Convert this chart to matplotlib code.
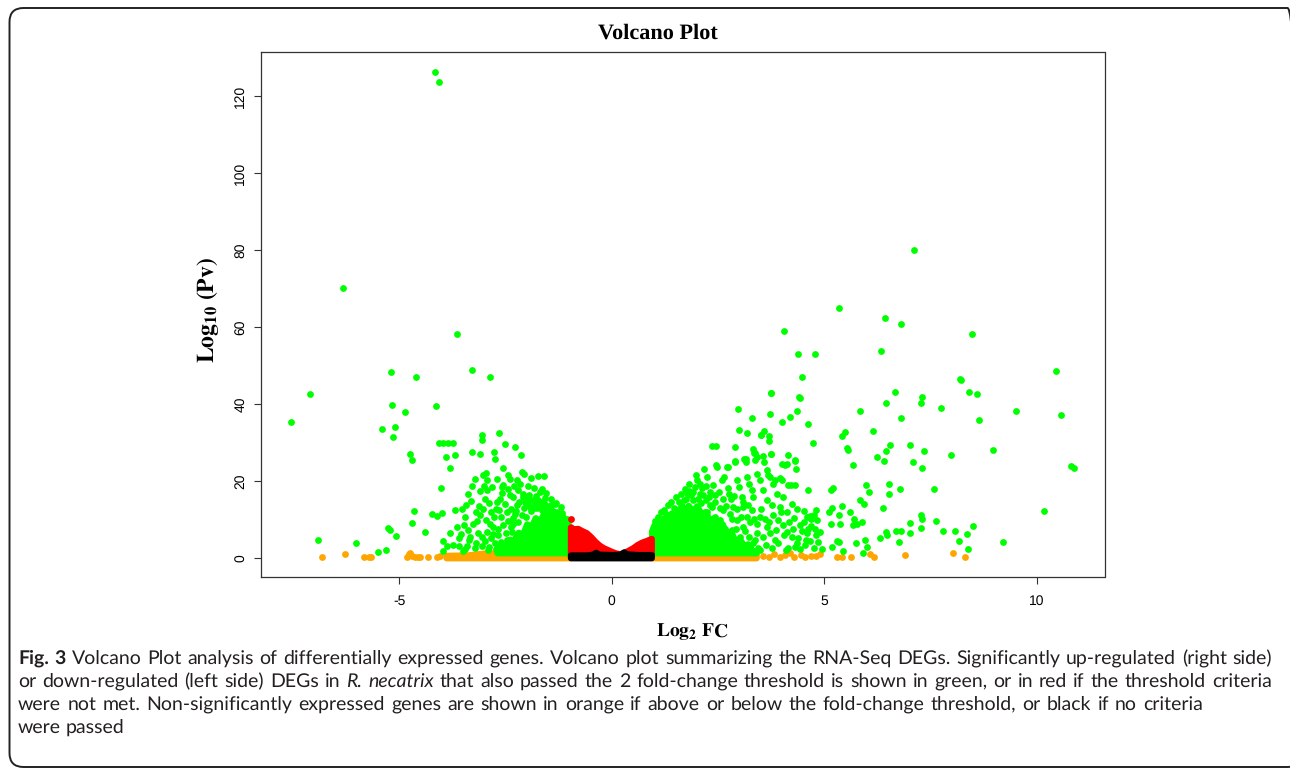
import math
import matplotlib
matplotlib.use('Agg')
import matplotlib.pyplot as plt
from matplotlib.patches import FancyBboxPatch
from matplotlib.transforms import IdentityTransform
from matplotlib.font_manager import FontProperties, findfont, get_font
from matplotlib.backends.backend_agg import get_hinting_flag

plt.rcParams['mathtext.fontset'] = 'stix'
plt.rcParams['text.hinting'] = 'no_hinting'

# ---- data (log2 FC, log10 p) ----

# significant and past the 2-fold threshold: scattered green genes
green_left = [
    (-7.55, 35.3), (-7.10, 42.7), (-6.91, 4.6), (-6.32, 70.2), (-6.03, 3.9),
    (-5.51, 1.4), (-5.40, 33.6), (-5.31, 1.9), (-5.26, 7.8), (-5.23, 7.2),
    (-5.19, 48.3), (-5.18, 39.7), (-5.15, 31.5), (-5.11, 34.0), (-5.07, 5.6),
    (-4.86, 38.0), (-4.76, 27.1), (-4.71, 25.4), (-4.70, 9.0), (-4.66, 12.2),
    (-4.61, 47.0), (-4.40, 6.7), (-4.24, 11.5), (-4.16, 126.4), (-4.07, 123.7),
    (-4.13, 39.6), (-4.12, 10.8), (-4.03, 18.2), (-3.99, 11.6), (-3.97, 4.3),
    (-4.06, 29.8), (-3.98, 29.8), (-3.85, 29.8), (-3.74, 29.8), (-3.91, 26.2),
    (-3.70, 26.8), (-3.81, 23.3), (-3.64, 58.1), (-3.29, 48.8), (-2.86, 47.0),
    (-3.70, 12.3), (-3.52, 12.7), (-3.55, 6.1), (-3.48, 8.4), (-3.41, 3.1),
    (-3.88, 3.1), (-3.73, 3.3), (-3.60, 3.1), (-3.96, 1.8), (-3.28, 27.6),
    (-3.11, 27.1), (-3.06, 31.8), (-3.05, 30.6), (-3.23, 20.4), (-3.28, 18.7),
    (-3.31, 14.8), (-2.65, 32.5), (-2.78, 27.6), (-2.75, 25.6), (-2.52, 29.7),
    (-2.55, 23.4), (-2.27, 28.7), (-2.13, 26.8), (-1.73, 21.3), (-1.84, 18.2),
    (-1.33, 11.3), (-1.59, 14.3), (-3.02, 21.5), (-2.96, 22.0), (-2.93, 20.2),
    (-3.00, 18.7), (-2.94, 17.6), (-2.83, 18.5), (-3.10, 17.4), (-2.99, 15.4),
    (-3.12, 13.4), (-3.11, 11.1), (-3.26, 8.8), (-3.33, 5.5), (-3.19, 3.7),
    (-3.06, 5.5), (-2.94, 6.8), (-2.86, 8.9), (-2.77, 10.7), (-2.72, 12.8),
    (-2.63, 15.4), (-2.59, 18.5), (-2.55, 18.9), (-2.43, 18.0), (-2.39, 16.3),
    (-2.51, 14.1), (-2.65, 12.4), (-2.61, 10.7), (-2.79, 8.1), (-2.67, 5.9),
    (-2.75, 3.7), (-2.90, 2.9), (-2.63, 2.4), (-2.47, 4.6), (-2.35, 6.8),
    (-2.32, 8.9), (-2.28, 11.5), (-2.24, 13.7), (-2.32, 15.9), (-2.20, 17.6),
    (-2.16, 19.3), (-2.24, 20.2), (-2.08, 16.7), (-2.04, 14.6), (-1.96, 15.4),
    (-1.92, 13.3), (-1.80, 14.1), (-1.73, 15.0), (-1.69, 13.7), (-1.65, 12.4),
    (-1.53, 12.0), (-1.45, 11.1), (-1.22, 10.2), (-1.10, 9.4), (-1.30, 9.8),
    (-3.45, 10.5), (-3.38, 16.5), (-3.17, 9.6), (-3.02, 12.6), (-2.88, 14.2),
    (-2.70, 20.5), (-2.45, 21.6), (-2.38, 12.8), (-2.12, 22.4), (-1.98, 18.6),
]

green_left_dense = [
    (-3.45, 2.2), (-3.35, 4.6), (-3.22, 2.6), (-3.15, 6.5), (-3.05, 3.0),
    (-2.98, 4.4), (-2.92, 2.0), (-2.85, 5.2), (-2.80, 6.2), (-2.72, 2.3),
    (-2.68, 7.4), (-2.60, 4.0), (-2.56, 8.6), (-2.50, 6.4), (-2.45, 9.6),
    (-2.42, 3.0), (-2.37, 7.9), (-2.33, 10.4), (-2.28, 5.0), (-2.26, 12.2),
    (-2.20, 9.2), (-2.18, 14.6), (-2.12, 11.0), (-2.10, 15.8), (-2.06, 12.9),
    (-2.02, 10.6), (-1.98, 14.2), (-1.94, 16.4), (-1.90, 12.2), (-1.86, 14.9),
    (-1.82, 13.0), (-1.78, 16.0), (-1.75, 12.9), (-1.70, 17.2), (-1.66, 14.6),
    (-1.62, 13.2), (-1.57, 15.6), (-1.52, 13.5), (-1.48, 12.6), (-1.42, 13.7),
    (-1.38, 12.2), (-1.34, 13.9), (-1.28, 12.0), (-1.25, 11.0), (-1.18, 11.6),
    (-1.14, 10.6), (-1.06, 10.0), (-1.02, 9.2), (-3.60, 5.0), (-3.50, 1.8),
    (-3.65, 8.0), (-3.80, 6.5), (-3.38, 7.2), (-3.20, 11.8), (-3.42, 13.6),
    (-2.97, 9.9), (-2.84, 12.0), (-2.70, 14.6), (-2.58, 16.8), (-2.47, 11.8),
    (-2.30, 18.6), (-2.40, 20.4), (-1.90, 20.8), (-2.06, 21.9), (-1.65, 17.8),
    (-1.55, 16.9), (-1.43, 15.4), (-1.30, 14.3), (-1.20, 13.2), (-1.60, 21.2),
]

green_right = [
    (3.75, 42.8), (4.42, 41.7), (6.68, 43.0), (7.31, 41.9), (7.27, 40.2),
    (6.46, 40.2), (8.40, 43.0), (8.61, 42.5), (8.22, 46.2), (2.98, 38.6),
    (3.73, 37.5), (3.31, 36.4), (4.35, 38.3), (4.19, 36.5), (4.00, 35.2),
    (4.62, 34.9), (5.84, 38.3), (6.80, 36.4), (7.74, 38.9), (9.52, 38.1),
    (10.57, 37.2), (8.65, 35.8), (3.00, 33.2), (3.19, 32.5), (3.58, 33.0),
    (3.51, 32.0), (3.70, 31.7), (3.70, 30.4), (5.50, 32.7), (5.41, 31.7),
    (6.14, 33.0), (4.73, 29.8), (2.36, 29.1), (2.45, 29.1), (2.91, 28.9),
    (3.33, 28.4), (3.38, 27.2), (3.37, 25.4), (5.53, 28.5), (5.57, 28.0),
    (6.56, 29.2), (7.03, 29.2), (7.98, 26.6), (8.98, 28.1), (10.80, 23.9),
    (10.89, 23.3), (6.46, 27.8), (6.42, 25.2), (6.25, 26.1), (7.09, 24.8),
    (7.35, 27.8), (7.31, 23.3), (5.67, 24.2), (4.32, 25.4), (4.14, 26.7),
    (3.74, 27.0), (7.59, 18.0), (6.52, 19.3), (6.78, 18.0), (5.98, 18.8),
    (6.05, 17.0), (6.38, 12.9), (6.52, 16.6), (5.85, 15.0), (5.95, 14.0),
    (5.16, 17.6), (5.22, 18.1), (4.61, 17.6), (5.11, 11.9), (5.19, 12.9),
    (5.35, 11.1), (5.41, 13.5), (5.61, 12.0), (5.16, 8.7), (5.37, 8.8),
    (5.70, 10.2), (5.78, 8.8), (5.88, 9.4), (5.68, 8.5), (4.81, 12.4),
    (4.83, 9.8), (4.75, 11.1), (4.79, 7.4), (4.81, 5.8), (4.86, 4.1),
    (5.30, 4.4), (5.35, 4.0), (5.18, 2.9), (5.75, 3.7), (5.97, 4.6),
    (6.00, 2.9), (5.92, 1.3), (5.45, 1.7), (6.32, 5.0), (6.47, 5.9),
    (6.45, 6.8), (6.69, 6.9), (6.81, 7.0), (6.77, 4.1), (7.02, 6.3),
    (7.02, 9.0), (7.27, 11.1), (7.30, 10.1), (7.28, 7.8), (7.63, 9.5),
    (7.81, 6.9), (8.09, 7.0), (8.18, 4.3), (8.37, 6.2), (8.50, 8.2),
    (8.39, 2.2), (9.22, 4.0), (10.18, 12.2), (7.11, 80.0), (5.35, 65.0),
    (6.43, 62.4), (6.81, 60.9), (4.06, 59.1), (8.49, 58.1), (6.34, 53.8),
    (4.39, 53.1), (4.79, 53.1), (4.48, 46.9), (10.47, 48.7), (8.21, 46.5),
    (3.76, 42.8), (4.43, 41.6), (4.31, 25.2), (4.34, 23.2), (4.13, 24.5),
    (4.00, 24.5), (3.55, 26.5), (3.59, 25.0), (3.73, 20.9), (3.85, 20.3),
    (3.96, 20.8), (4.23, 18.8), (4.32, 18.8), (4.60, 10.5), (4.66, 10.8),
    (4.70, 10.0), (4.53, 9.4), (4.43, 8.4), (4.63, 7.5), (4.59, 6.3),
    (4.67, 4.3), (4.55, 3.3), (4.32, 2.9), (4.16, 2.4), (2.17, 23.2),
    (2.24, 21.1), (2.13, 18.2), (2.21, 18.6), (2.31, 17.2), (2.43, 16.3),
    (2.47, 23.7), (2.59, 20.2), (2.64, 20.9), (2.71, 23.5), (2.75, 16.7),
    (2.80, 15.4), (2.90, 25.0), (2.94, 20.2), (3.00, 18.5), (3.06, 15.9),
    (3.10, 14.6), (3.15, 25.6), (3.18, 21.1), (3.22, 19.3), (3.30, 17.6),
    (3.33, 15.9), (3.35, 27.2), (3.41, 26.1), (3.41, 21.9), (3.48, 20.2),
    (3.57, 17.6), (3.65, 22.8), (3.69, 21.5), (3.75, 27.0), (3.80, 19.3),
    (4.00, 20.2), (4.09, 24.1), (4.14, 18.9), (3.88, 16.7), (4.04, 15.9),
    (3.65, 15.0), (3.77, 13.7), (3.96, 13.3), (4.12, 12.0), (4.24, 14.1),
    (4.35, 12.8), (3.80, 11.1), (3.92, 9.8), (4.04, 8.5), (3.65, 8.1),
    (3.73, 6.3), (3.84, 4.6), (3.49, 10.7), (3.41, 8.9), (3.57, 5.5),
    (4.12, 6.8), (4.24, 5.5), (4.35, 3.7), (3.30, 12.4), (3.18, 10.7),
    (3.10, 8.1), (3.22, 5.5), (3.33, 3.7), (3.45, 2.4), (2.86, 13.3),
    (2.78, 11.5), (2.94, 9.8), (2.82, 7.2), (3.02, 5.5), (2.90, 3.3),
    (2.63, 12.4), (2.55, 9.8), (2.67, 7.6), (2.47, 5.5), (2.59, 2.9),
    (2.35, 13.3), (2.24, 12.0), (2.43, 10.7), (1.37, 10.2), (1.57, 12.4),
    (1.69, 15.0), (1.78, 16.9), (1.83, 17.4), (2.00, 20.2), (2.08, 16.7),
    (1.92, 15.0), (1.96, 18.5), (2.08, 19.3), (1.88, 12.4), (2.46, 24.2),
    (2.73, 23.6), (2.91, 25.1), (3.12, 25.7), (3.16, 24.9), (3.52, 32.0),
]

green_right_dense = [
    (1.02, 9.5), (1.08, 10.6), (1.15, 11.8), (1.22, 12.4), (1.28, 11.4),
    (1.32, 13.6), (1.40, 14.4), (1.46, 13.0), (1.52, 15.8), (1.58, 14.5),
    (1.62, 16.6), (1.66, 13.4), (1.72, 17.8), (1.76, 15.2), (1.82, 19.2),
    (1.86, 16.2), (1.92, 17.0), (1.98, 21.5), (2.02, 15.2), (2.10, 14.3),
    (2.16, 16.4), (2.22, 14.9), (2.28, 15.8), (2.32, 13.7), (2.38, 18.9),
    (2.44, 14.6), (2.52, 17.2), (2.56, 12.9), (2.62, 15.2), (2.70, 13.4),
    (2.74, 18.2), (2.82, 10.2), (2.88, 16.0), (2.96, 12.6), (3.04, 10.6),
    (3.08, 13.2), (3.14, 7.0), (3.20, 13.8), (3.26, 9.4), (3.36, 10.0),
    (3.42, 6.3), (3.52, 12.8), (3.60, 10.2), (3.62, 3.2), (3.70, 9.2),
    (3.78, 2.6), (3.86, 7.3), (3.92, 3.8), (3.98, 11.9), (4.06, 5.8),
    (4.10, 2.0), (4.18, 9.3), (4.26, 7.4), (4.30, 10.4), (4.38, 5.2),
    (4.44, 2.2), (4.48, 7.0), (4.52, 12.2), (4.58, 4.6), (4.70, 8.2),
    (4.76, 2.6), (4.90, 6.6), (4.95, 2.2), (2.60, 4.2), (2.76, 3.0),
    (2.84, 5.4), (2.98, 2.2), (3.04, 4.0), (3.16, 3.0), (3.28, 2.0),
    (3.38, 4.6), (3.50, 2.0), (2.52, 2.6), (2.40, 3.6), (2.70, 6.4),
    (2.92, 7.6), (2.44, 8.2), (2.30, 6.2), (2.20, 8.0), (2.12, 10.2),
]

# solid green cores next to the fold-change cut-off (x, top of cloud)
core_left_x = [-2.70, -2.60, -2.50, -2.40, -2.30, -2.20, -2.10, -2.00, -1.90, -1.80,
               -1.70, -1.60, -1.50, -1.40, -1.30, -1.20, -1.10, -0.98]
core_left_top = [2.2, 3.4, 2.8, 4.8, 4.2, 6.6, 6.0, 8.8, 8.0, 10.4,
                 9.6, 11.5, 10.5, 11.8, 10.6, 10.0, 9.0, 8.0]
core_right_x = [0.94, 1.00, 1.10, 1.20, 1.30, 1.40, 1.50, 1.60, 1.70, 1.80, 1.90, 2.00, 2.10,
                2.20, 2.30, 2.40, 2.50, 2.60, 2.70, 2.80, 2.90, 3.00, 3.10, 3.20, 3.30, 3.40]
core_right_top = [7.0, 8.6, 8.0, 10.2, 9.5, 11.6, 10.8, 12.9, 11.8, 13.6, 12.2, 13.5, 11.5,
                  12.0, 9.8, 10.4, 8.0, 8.8, 6.2, 6.8, 4.5, 5.0, 3.2, 3.6, 2.0, 1.5]
core_floor = 1.3

# significant but inside the fold-change limits: red V
red_x = [-0.97, -0.90, -0.80, -0.70, -0.60, -0.50, -0.40, -0.30, -0.20, -0.10, 0.00,
         0.10, 0.20, 0.30, 0.40, 0.50, 0.60, 0.70, 0.80, 0.93]
red_top = [8.0, 7.5, 7.6, 7.0, 6.5, 5.5, 4.3, 3.3, 2.6, 2.1, 1.6,
           1.2, 1.0, 1.4, 2.0, 2.6, 3.4, 4.0, 4.4, 5.0]
red_extra = [(-0.96, 10.2)]

# nothing passed: black strip
black_x = [-0.97, -0.60, -0.45, -0.38, -0.30, 0.00, 0.20, 0.28, 0.35, 0.60, 0.93]
black_top = [0.7, 0.7, 0.9, 1.4, 0.9, 0.8, 0.9, 1.5, 1.0, 0.8, 0.8]

# past the fold-change cut-off but not significant: orange
orange_left_x = [-3.90, -3.40, -3.00, -2.60, -2.20, -1.80, -1.40, -0.98]
orange_left_top = [0.6, 0.7, 1.2, 1.3, 1.2, 1.1, 1.0, 1.0]
orange_right_x = [0.94, 1.40, 1.90, 2.40, 2.90, 3.40]
orange_right_top = [1.0, 1.1, 1.1, 1.0, 0.9, 0.8]
orange_pts = [
    (-6.83, 0.1), (-6.28, 1.0), (-5.83, 0.1), (-5.71, 0.1), (-5.67, 0.1),
    (-4.83, 0.3), (-4.78, 0.9), (-4.74, 1.3), (-4.70, 0.5), (-4.64, 0.2),
    (-4.55, 0.2), (-4.51, 0.1), (-4.32, 0.1), (-4.12, 0.2), (-4.05, 0.4),
    (3.55, 0.5), (3.70, 0.2), (3.82, 0.9), (3.95, 0.3), (4.08, 0.6),
    (4.20, 1.1), (4.30, 0.3), (4.45, 0.6), (4.55, 0.2), (4.70, 0.5),
    (4.82, 0.4), (4.90, 0.9), (5.30, 0.1), (5.43, 0.1), (5.63, 0.1),
    (6.08, 1.0), (6.18, 0.1), (6.91, 0.7), (8.04, 1.1), (8.32, 0.2),
]

x_ticks = [-5, 0, 5, 10]
y_ticks = [0, 20, 40, 60, 80, 100, 120]

caption = [
    ([('Fig. 3', 'bold', 'normal'),
      ('Volcano Plot analysis of differentially expressed genes. Volcano plot summarizing '
       'the RNA-Seq DEGs. Significantly up-regulated (right side)', 'normal', 'normal')], 1272),
    ([('or down-regulated (left side) DEGs in', 'normal', 'normal'),
      ('R. necatrix', 'normal', 'italic'),
      ('that also passed the 2 fold-change threshold is shown in green, or in red if the '
       'threshold criteria', 'normal', 'normal')], 1272),
    ([('were not met. Non-significantly expressed genes are shown in orange if above or '
       'below the fold-change threshold, or black if no criteria', 'normal', 'normal')], 1203),
    ([('were passed', 'normal', 'normal')], None),
]

GREEN, RED, ORANGE, BLACK = '#00ff00', '#ff0000', '#ffa500', '#000000'

fig = plt.figure(figsize=(12.9, 7.7), dpi=100)
ax = fig.add_axes([261 / 1290, 1 - 576.7 / 770, 843.5 / 1290, 524.4 / 770])

dot = 24
edge = 4.6  # pt, about one dot across so filled cores look like dot clouds


def cloud(xs, lo, hi, color):
    ax.fill_between(xs, lo, hi, facecolor=color, edgecolor=color,
                    linewidth=edge, joinstyle='round')


def dots(pairs, color):
    px, py = zip(*pairs)
    ax.scatter(px, py, s=dot, c=color, linewidths=0)


cloud(orange_left_x, 0, orange_left_top, ORANGE)
cloud(orange_right_x, 0, orange_right_top, ORANGE)
dots(orange_pts, ORANGE)

cloud(core_left_x, core_floor, core_left_top, GREEN)
cloud(core_right_x, core_floor, core_right_top, GREEN)
dots(green_left, GREEN)
dots(green_left_dense, GREEN)
dots(green_right, GREEN)
dots(green_right_dense, GREEN)

cloud(red_x, 1.0, red_top, RED)
dots(red_extra, RED)
cloud(black_x, 0, black_top, BLACK)

ax.set_xlim(-8.256, 11.60)
ax.set_ylim(-4.94, 131.5)
ax.set_xticks(x_ticks)
ax.set_yticks(y_ticks)
ax.set_xticklabels([str(v) for v in x_ticks], family='Liberation Sans', fontsize=10)
ax.set_yticklabels([str(v) for v in y_ticks], family='Liberation Sans', fontsize=10,
                   rotation=90, va='center')
ax.tick_params(direction='out', length=5, width=0.8, color='#333333')
ax.tick_params(axis='x', pad=8)
ax.tick_params(axis='y', pad=5)
for s in ax.spines.values():
    s.set_linewidth(0.9)
    s.set_color('#333333')

fig.text(658 / 1290, 1 - 33 / 770, 'Volcano Plot', ha='center', va='center',
         fontsize=16, fontweight='bold', family='Liberation Serif')
fig.text(692 / 1290, 1 - 632 / 770, r'$\mathbf{Log_2\ FC}$', ha='center', va='center',
         fontsize=14)
fig.text(208 / 1290, 1 - 310 / 770, r'$\mathbf{Log_{10}\ (Pv)}$', ha='center', va='center',
         fontsize=17, rotation=90)

# rounded frame around figure + caption
fig.patches.append(FancyBboxPatch((9.5, 3), 1292, 759, boxstyle='round,pad=0,rounding_size=14',
                                  transform=IdentityTransform(), fill=False,
                                  lw=1.4, ec='#222222'))

# justified caption, laid out word by word
cap_font = 'Lato'
cap_size = 14
renderer = fig.canvas.get_renderer()


def pixel_shift(word, prop):
    # agg snaps each word's bitmap to whole pixels; work out by how much the
    # baseline moves so every word of a line sits on the same row
    font = get_font(findfont(prop))
    font.clear()
    font.set_size(prop.get_size_in_points(), fig.dpi)
    font.set_text(word, 0, flags=get_hinting_flag())
    h = font.get_width_height()[1] / 64
    d = font.get_descent() / 64
    return round(d) + math.floor(h - d) - math.floor(h)


base = 770 - 664
for runs, right in caption:
    words = []
    for text, wt, st in runs:
        prop = FontProperties(family=cap_font, size=cap_size, weight=wt, style=st)
        for w in text.split(' '):
            t = fig.text(0, base + pixel_shift(w, prop), w, transform=IdentityTransform(),
                         fontproperties=prop, va='baseline', color='#231f20')
            words.append(t)
    widths = [t.get_window_extent(renderer).width for t in words]
    if right is None:
        gap = cap_size * 100 / 72 * 0.25
    else:
        gap = (right - 18 - sum(widths)) / (len(words) - 1)
    x = 18
    for t, w in zip(words, widths):
        t.set_x(x)
        x += w + gap
    base -= 23

fig.savefig('out.png', dpi=100)
